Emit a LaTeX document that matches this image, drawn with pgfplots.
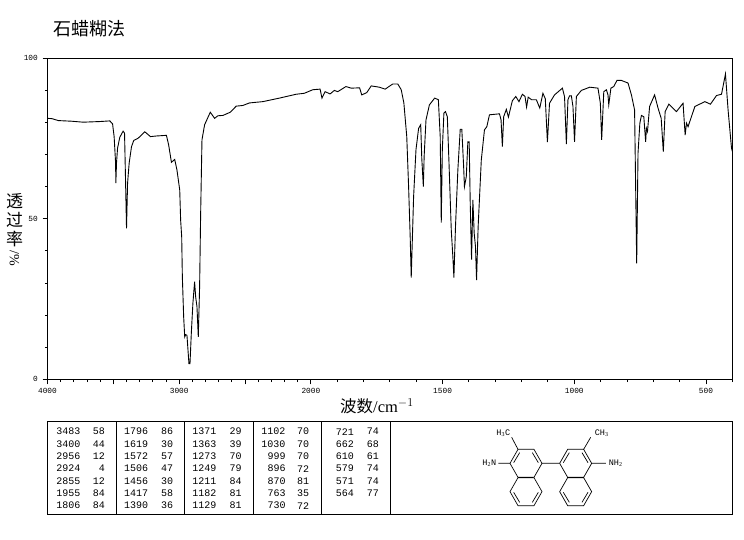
\documentclass[border=0pt]{standalone}
\usepackage{fontspec}
\usepackage{pgfplots}
\pgfplotsset{compat=1.18}
\setmainfont{Liberation Serif}
\newfontfamily\cjk{Noto Sans CJK SC}
\newfontfamily\digits{Liberation Mono}

% IR spectrum: wavenumber, transmittance
\newcommand\ring[2]{%
  \draw[shift={(#1,#2)}] (-24,-42) -- (24,-42) -- (48,0) -- (24,42) -- (-24,42) -- (-48,0) -- cycle;}
\newcommand\inup[2]{%
  \draw[shift={(#1,#2)}] (-19,-32) -- (-37,-2) (19,-32) -- (37,-2);}
\newcommand\indown[2]{%
  \draw[shift={(#1,#2)}] (-37,2) -- (-19,32) (37,2) -- (19,32);}
\newcommand\tabcol[3]{%
  \foreach \a/\b [count=\i from 0] in {#3} {
    \pgfmathsetmacro\yy{107.3-12.33*\i}
    \node[anchor=east,inner sep=0pt,font=\digits\fontsize{10}{10}\selectfont] at (#1pt,\yy pt) {\a};
    \node[anchor=east,inner sep=0pt,font=\digits\fontsize{10}{10}\selectfont] at (#2pt,\yy pt) {\b};
  }}

\begin{document}
\begin{tikzpicture}[x=1pt,y=1pt]
\path[use as bounding box] (0,0) rectangle (744,539);

\begin{axis}[
    at={(47.5pt,159.7pt)}, anchor=south west,
    scale only axis, width=684.8pt, height=321pt,
    x coord trafo/.code={\pgfmathparse{#1>2000 ? (4000-#1)/2 : 1000+(2000-#1)}},
    xmin=4000, xmax=400, ymin=0, ymax=100,
    xtick={4000,3500,3000,2500,2000,1500,1000,500},
    xticklabels={4000,,3000,,2000,1500,1000,500},
    minor xtick={3900,3800,3700,3600,3400,3300,3200,3100,2900,2800,2700,2600,2400,2300,2200,2100,
      1900,1800,1700,1600,1400,1300,1200,1100,900,800,700,600,400},
    ytick={0,50,100},
    minor ytick={10,20,30,40,60,70,80,90},
    xtick pos=lower, ytick pos=left,
    tick align=outside,
    major tick length=5pt, minor tick length=2.7pt,
    every tick/.style={black,line width=.9pt},
    axis line style={line width=1.2pt},
    /pgf/number format/assume math mode=true,
    ticklabel style={font=\digits\fontsize{7.8}{8}\selectfont,inner sep=1pt},
    xticklabel style={yshift=-2.5pt},
    yticklabel style={xshift=-3.5pt},
]
\addplot[black,line width=.9pt] coordinates {
(4000,81.3)(3966,81.2)(3918,80.6)(3817,80.4)(3729,80.1)(3602,80.3)(3527,80.5)(3506,79.6)(3494,75.6)(3483,67.4)
(3481,61.1)(3476,67.4)(3468,72.0)(3451,75.4)(3426,77.3)(3415,76.7)(3408,63.1)(3400,47.0)(3392,61.1)(3380,67.3)
(3362,72.5)(3345,74.4)(3312,75.1)(3261,77.1)(3218,75.6)(3173,75.8)(3097,76.0)(3080,73.0)(3059,67.6)(3034,68.5)
(3017,65.2)(2996,59.0)(2989,49.6)(2981,44.4)(2976,31.9)(2966,19.4)(2958,13.2)(2951,13.9)(2941,13.7)(2933,9.0)
(2926,4.9)(2918,4.9)(2908,14.3)(2896,23.6)(2883,30.4)(2875,25.7)(2865,22.6)(2855,13.2)(2845,28.8)(2837,51.8)
(2827,74.6)(2807,79.3)(2764,83.2)(2731,81.3)(2706,82.1)(2668,82.2)(2612,83.2)(2567,85.1)(2517,85.3)(2466,86.1)
(2365,86.5)(2239,87.6)(2112,88.8)(2050,89.1)
(1993,90.2)(1965,90.4)(1958,87.6)(1946,89.6)(1927,88.9)(1911,90.0)(1898,89.6)(1867,91.2)(1847,90.7)(1815,90.8)
(1807,88.6)(1788,89.3)(1771,91.4)(1740,91.0)(1718,90.4)(1689,92.0)(1670,92.0)(1657,90.2)(1647,86.1)(1636,75.6)
(1629,60.0)(1623,44.4)(1619,31.7)(1616,40.2)(1610,56.9)(1601,71.5)(1591,78.2)(1583,79.3)(1579,68.9)(1573,60.0)
(1570,69.4)(1563,80.8)(1550,85.5)(1530,87.6)(1516,87.1)(1509,75.6)(1505,48.8)(1501,71.5)(1495,82.9)(1489,83.4)
(1482,81.8)(1476,68.3)(1467,46.5)(1461,38.2)(1457,31.7)(1451,47.5)(1442,65.2)(1433,77.9)(1427,77.9)(1420,66.2)
(1417,60.0)(1410,63.1)(1404,74.0)(1399,74.0)(1395,54.8)(1390,37.3)(1385,55.9)(1380,45.5)(1375,41.3)(1371,30.9)
(1365,47.5)(1353,68.3)(1341,77.7)(1332,78.7)(1322,82.4)(1284,82.7)(1278,80.8)(1273,72.5)(1268,81.8)(1258,84.1)
(1250,81.7)(1235,86.8)(1222,88.1)(1210,86.5)(1197,88.8)(1187,88.1)(1181,84.8)(1175,87.9)(1162,87.1)(1144,87.1)
(1131,84.5)(1119,89.1)(1110,87.4)(1102,73.9)(1094,86.0)(1075,88.6)(1045,90.7)(1037,88.1)(1030,73.3)(1024,87.1)
(1018,88.3)(1011,88.3)(1005,85.0)(999,74.0)(992,88.1)(973,90.0)(941,91.0)(910,90.7)(901,86.0)(896,74.6)
(888,89.6)(878,90.2)(872,88.6)(869,85.5)(861,90.7)(850,91.2)(838,93.1)(821,93.1)(796,92.3)(783,88.6)
(771,83.9)(767,60.0)(763,36.1)(758,70.4)(751,79.8)(745,82.2)(736,81.8)(729,74.0)(726,78.2)(722,77.2)
(714,85.0)(695,88.6)(682,84.5)(670,81.3)(662,70.9)(655,83.4)(641,85.7)(612,83.4)(587,86.0)(579,76.1)
(574,79.8)(568,78.7)(542,85.0)(504,86.5)(483,85.7)(460,88.4)(441,88.8)(426,95.1)(416,83.9)(403,72.0)(400,71.0)
};
\end{axis}

% titles
\node[anchor=west,inner sep=0pt,font=\cjk\fontsize{18}{18}\selectfont] at (53,510.5) {石蜡糊法};
\node[anchor=west,inner sep=0pt,font=\fontsize{16.5}{18}\selectfont] at (340,133) {{\cjk 波数}/cm$^{-1}$};
\foreach \c/\yy in {透/337.5,过/319,率/300} {
  \node[inner sep=0pt,font=\cjk\fontsize{17}{18}\selectfont] at (14.5,\yy) {\c};
}
\node[inner sep=0pt,rotate=-90,font=\fontsize{14}{14}\selectfont] at (14.5,281) {/\%};

% peak table
\draw[line width=1pt] (47.3,25) rectangle (732,118);
\foreach \xx in {116.7,184.3,253.3,321.7,390.7} { \draw[line width=1pt] (\xx,25) -- (\xx,118); }
\tabcol{80.7}{105}{3483/58,3400/44,2956/12,2924/4,2855/12,1955/84,1806/84}
\tabcol{148.3}{173.3}{1796/86,1619/30,1572/57,1506/47,1456/30,1417/58,1390/36}
\tabcol{216.7}{241.7}{1371/29,1363/39,1273/70,1249/79,1211/84,1182/81,1129/81}
\tabcol{285.7}{309.3}{1102/70,1030/70,999/70,896/72,870/81,763/35,730/72}
\tabcol{354}{379}{721/74,662/68,610/61,579/74,571/74,564/77}

% structure
\begin{scope}[shift={(450,119)},x=.3333pt,y=-.3333pt,line width=.7pt]
\ring{228}{130}\ring{228}{215}\ring{377}{130}\ring{377}{215}
\inup{228}{130}\inup{377}{130}\indown{228}{215}\indown{377}{215}
\draw[line width=1.6pt] (205,172) -- (250,172) (352,172) -- (402,172);
\draw (276,130) -- (329,130) (204,88) -- (185,52) (401,88) -- (422,52)
      (180,130) -- (145,130) (425,130) -- (468,130);
\tikzset{every node/.style={inner sep=0pt,font=\digits\fontsize{8.5}{9}\selectfont}}
\node at (160,40) {H$_{\mathrm 3}$C};
\node at (455,40) {CH$_{\mathrm 3}$};
\node at (118,130) {H$_{\mathrm 2}$N};
\node at (497,130) {NH$_{\mathrm 2}$};
\end{scope}
\end{tikzpicture}
\end{document}
